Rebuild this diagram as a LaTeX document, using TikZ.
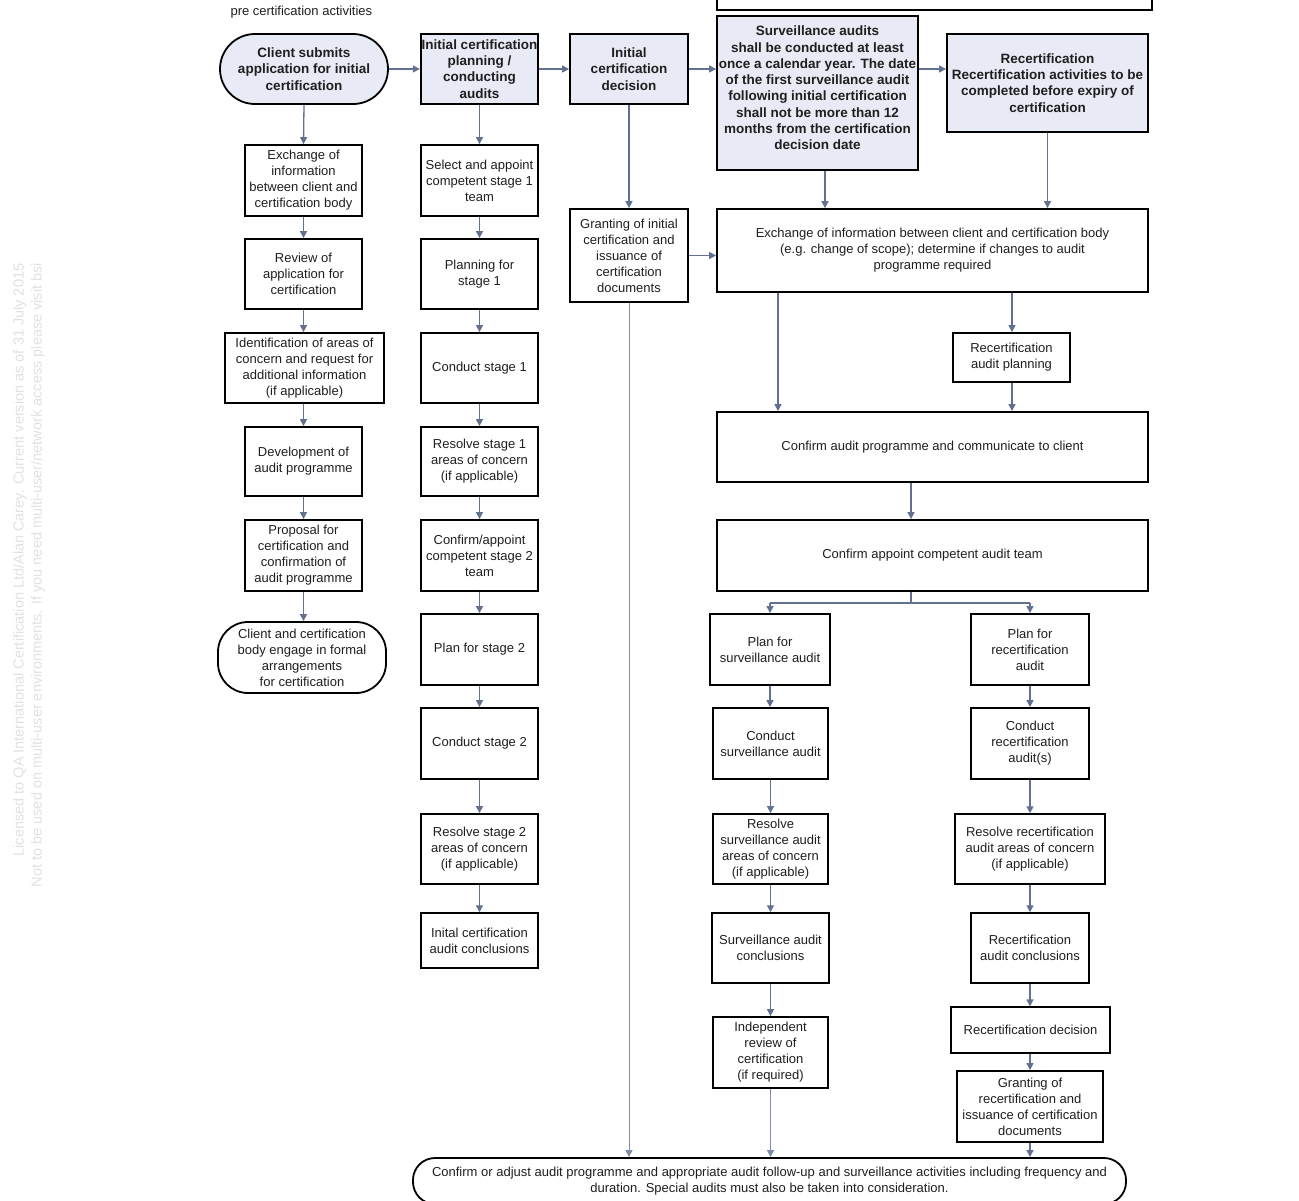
\documentclass[tikz,border=0pt]{standalone}
\usepackage{fontspec}
\setmainfont{Liberation Sans}
\usetikzlibrary{arrows.meta,calc}
\definecolor{lav}{RGB}{232,234,245}
\definecolor{arrc}{RGB}{98,112,145}
\definecolor{wmc}{RGB}{225,225,230}
\begin{document}
\begin{tikzpicture}[x=1pt,y=-1pt,
  sz/.style 2 args={minimum width=#1,minimum height=#2},
  box/.style={draw=black, line width=1.8pt, fill=white, align=center, inner sep=1pt,
    text=black!88, font=\fontsize{13}{16}\selectfont},
  hbox/.style={box, fill=lav, font=\bfseries\fontsize{13.5}{16.3}\selectfont},
  arr/.style={draw=arrc, line width=1.3pt, -{Triangle[length=7pt,width=7pt]}},
  plain/.style={draw=arrc, line width=1.3pt},
  longarr/.style={arr, line width=1pt, draw=arrc!80}]
\useasboundingbox (0,0) rectangle (1299,1200);
\fill[white] (0,0) rectangle (1299,1200);

% watermark
\node[rotate=90, font=\fontsize{14.5}{16}\selectfont, text=wmc] (wm1) at (20,560)
  {Licensed to QA International Certification Ltd/Alan Carey. Current version as of 31 July 2015};
\node[rotate=90, font=\fontsize{14.5}{16}\selectfont, text=wmc] (wm2) at (38,575)
  {Not to be used on multi-user environments. If you need multi-user/network access please visit bsi};

% title
\node[font=\fontsize{13}{16}\selectfont, text=black!88, anchor=west] (title) at (227,12) {pre certification activities};

% cut-off top box
\node[box, sz={435}{40}] (topbox) at (934.5,-10) {};

% header row
\node[hbox, sz={168}{70}, rounded corners=35pt] (cs) at (304,69) {Client submits\\application for initial\\certification};
\node[hbox, sz={117}{70}] (ip) at (479.5,69) {Initial certification\\planning /\\conducting\\audits};
\node[hbox, sz={118}{70}] (icd) at (629,69) {Initial\\certification\\decision};
\node[hbox, sz={201}{154}] (sa) at (817.5,93) {};
\node[align=center, inner sep=0pt, text=black!88, font=\bfseries\fontsize{13.5}{16.3}\selectfont] (satext) at (817.5,88)
  {Surveillance audits\\shall be conducted at least\\once a calendar year. The date\\of the first surveillance audit\\following initial certification\\shall not be more than 12\\months from the certification\\decision date};
\node[hbox, sz={201}{98}] (rc) at (1047.5,83) {Recertification\\Recertification activities to be\\completed before expiry of\\certification};

% column 1
\node[box, sz={117}{71}] (e1) at (303.5,180.5) {Exchange of\\information\\between client and\\certification body};
\node[box, sz={117}{70}] (e2) at (303.5,274) {Review of\\application for\\certification};
\node[box, sz={159}{70}] (e3) at (304.5,368) {Identification of areas of\\concern and request for\\additional information\\(if applicable)};
\node[box, sz={117}{69}] (e4) at (303.5,461.5) {Development of\\audit programme};
\node[box, sz={117}{71}] (e5) at (303.5,555.5) {Proposal for\\certification and\\confirmation of\\audit programme};
\node[box, sz={168}{71}, rounded corners=30pt] (e6) at (302,657.5) {Client and certification\\body engage in formal\\arrangements\\for certification};

% column 2
\node[box, sz={117}{71}] (s1) at (479.5,180.5) {Select and appoint\\competent stage 1\\team};
\node[box, sz={117}{70}] (s2) at (479.5,274) {Planning for\\stage 1};
\node[box, sz={117}{70}] (s3) at (479.5,368) {Conduct stage 1};
\node[box, sz={117}{69}] (s4) at (479.5,461.5) {Resolve stage 1\\areas of concern\\(if applicable)};
\node[box, sz={117}{71}] (s5) at (479.5,555.5) {Confirm/appoint\\competent stage 2\\team};
\node[box, sz={117}{71}] (s6) at (479.5,649.5) {Plan for stage 2};
\node[box, sz={117}{71}] (s7) at (479.5,743.5) {Conduct stage 2};
\node[box, sz={117}{70}] (s8) at (479.5,849) {Resolve stage 2\\areas of concern\\(if applicable)};
\node[box, sz={117}{55}, line width=1.5pt] (s9) at (479.5,940.5) {Inital certification\\audit conclusions};

% column 3
\node[box, sz={118}{93}] (gi) at (629,255.5) {Granting of initial\\certification and\\issuance of\\certification\\documents};

% right block
\node[box, sz={431}{83}] (ex) at (932.5,250.5) {Exchange of information between client and certification body\\(e.g. change of scope); determine if changes to audit\\programme required};
\node[box, sz={117}{49}] (rap) at (1011.5,357.5) {Recertification\\audit planning};
\node[box, sz={431}{70}] (cap) at (932.5,447) {Confirm audit programme and communicate to client};
\node[box, sz={431}{71}] (cat) at (932.5,555.5) {Confirm appoint competent audit team};

% surveillance branch
\node[box, sz={120}{71}] (ps) at (770,649.5) {Plan for\\surveillance audit};
\node[box, sz={115}{71}] (csa) at (770.5,743.5) {Conduct\\surveillance audit};
\node[box, sz={115}{70}] (rs) at (770.5,849) {Resolve\\surveillance audit\\areas of concern\\(if applicable)};
\node[box, sz={117}{70}, line width=1.5pt] (sc) at (770.5,948) {Surveillance audit\\conclusions};
\node[box, sz={115}{71}] (ir) at (770.5,1052.5) {Independent\\review of\\certification\\(if required)};

% recertification branch
\node[box, sz={118}{71}] (pr) at (1030,649.5) {Plan for\\recertification\\audit};
\node[box, sz={118}{71}] (cr) at (1030,743.5) {Conduct\\recertification\\audit(s)};
\node[box, sz={150}{70}, line width=1.5pt] (rr) at (1030,849) {Resolve recertification\\audit areas of concern\\(if applicable)};
\node[box, sz={118}{70}, line width=1.5pt] (rac) at (1030,948) {Recertification\\audit conclusions};
\node[box, sz={159}{46}, line width=1.3pt] (rd) at (1030.5,1030) {Recertification decision};
\node[box, sz={146}{71}] (gr) at (1030,1106.5) {Granting of\\recertification and\\issuance of certification\\documents};

% bottom
\node[box, sz={713}{46}, rounded corners=22pt] (bb) at (769.5,1181) {Confirm or adjust audit programme and appropriate audit follow-up and surveillance activities including frequency and\\duration. Special audits must also be taken into consideration.};

% helper coordinates
\coordinate (x778) at (778,0);
\coordinate (x825) at (825,0);
\coordinate (x911) at (911,0);
\coordinate (x1012) at (1012,0);

% header arrows
\draw[arr] (cs.east) -- (ip.west);
\draw[arr] (ip.east) -- (icd.west);
\draw[arr] (icd.east) -- (sa.west |- icd.east);
\draw[arr] (sa.east |- icd.east) -- (rc.west |- icd.east);

% column 1 arrows
\draw[arr] (cs.south) -- (e1.north);
\draw[arr] (e1.south) -- (e2.north);
\draw[arr] (e2.south) -- (e2.south |- e3.north);
\draw[arr] (e3.south -| e4.north) -- (e4.north);
\draw[arr] (e4.south) -- (e5.north);
\draw[arr] (e5.south) -- (e5.south |- e6.north);

% column 2 arrows
\draw[arr] (ip.south) -- (s1.north);
\draw[arr] (s1.south) -- (s2.north);
\draw[arr] (s2.south) -- (s3.north);
\draw[arr] (s3.south) -- (s4.north);
\draw[arr] (s4.south) -- (s5.north);
\draw[arr] (s5.south) -- (s6.north);
\draw[arr] (s6.south) -- (s7.north);
\draw[arr] (s7.south) -- (s8.north);
\draw[arr] (s8.south) -- (s9.north);

% column 3
\draw[arr] (icd.south) -- (gi.north);
\draw[arr] (gi.east) -- (ex.west |- gi.east);
\draw[longarr] (gi.south) -- (gi.south |- bb.north);

% right block arrows
\draw[arr] (sa.south -| x825) -- (ex.north -| x825);
\draw[arr] (rc.south) -- (rc.south |- ex.north);
\draw[arr] (ex.south -| x1012) -- (rap.north -| x1012);
\draw[arr] (rap.south -| x1012) -- (cap.north -| x1012);
\draw[arr] (ex.south -| x778) -- (cap.north -| x778);
\draw[arr] (cap.south -| x911) -- (cat.north -| x911);
\draw[plain] (cat.south -| x911) -- ++(0,11) coordinate (br);
\draw[plain] (ps.north |- br) -- (pr.north |- br);
\draw[arr] (ps.north |- br) -- (ps.north);
\draw[arr] (pr.north |- br) -- (pr.north);

% surveillance branch arrows
\draw[arr] (ps.south) -- (ps.south |- csa.north);
\draw[arr] (csa.south) -- (rs.north);
\draw[arr] (rs.south) -- (sc.north);
\draw[arr] (sc.south) -- (ir.north);
\draw[longarr] (ir.south) -- (ir.south |- bb.north);

% recertification branch arrows
\draw[arr] (pr.south) -- (cr.north);
\draw[arr] (cr.south) -- (rr.north);
\draw[arr] (rr.south) -- (rac.north);
\draw[arr] (rac.south) -- (rac.south |- rd.north);
\draw[arr] (rd.south -| gr.north) -- (gr.north);
\draw[arr] (gr.south) -- (gr.south |- bb.north);
\end{tikzpicture}
\end{document}
